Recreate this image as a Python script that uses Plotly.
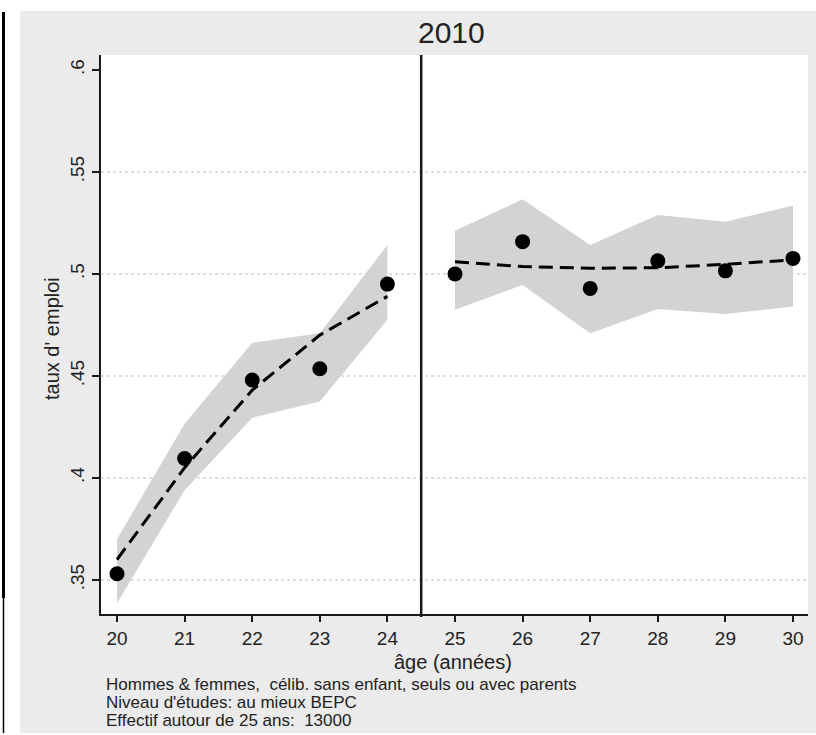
import plotly.graph_objects as go

# ---- data ----
ages_left = [20, 21, 22, 23, 24]
ages_right = [25, 26, 27, 28, 29, 30]

rate_left = [0.353, 0.4095, 0.448, 0.4535, 0.495]
rate_right = [0.500, 0.5158, 0.4929, 0.5064, 0.5015, 0.5076]

fit_left = [0.360, 0.405, 0.443, 0.470, 0.489]
fit_right = [0.506, 0.5036, 0.5028, 0.503, 0.5047, 0.5069]

upper_left = [0.370, 0.4266, 0.4663, 0.4709, 0.5142]
lower_left = [0.3386, 0.394, 0.4295, 0.4374, 0.4775]
upper_right = [0.5211, 0.5366, 0.5142, 0.5289, 0.5256, 0.5335]
lower_right = [0.4824, 0.4946, 0.4709, 0.4828, 0.4804, 0.484]

cutoff = 24.5
x_ticks = list(range(20, 31))
y_ticks = [0.35, 0.40, 0.45, 0.50, 0.55, 0.60]
y_ticktext = [".35", ".4", ".45", ".5", ".55", ".6"]
grid_vals = [0.35, 0.40, 0.45, 0.50, 0.55]

title_text = "2010"
x_title = "âge (années)"
y_title = "taux d' emploi"
notes = [
    "Hommes & femmes,  célib. sans enfant, seuls ou avec parents",
    "Niveau d'études: au mieux BEPC",
    "Effectif autour de 25 ans:  13000",
]

# ---- style ----
FONT = "Liberation Sans"
BAND = "#D3D3D3"
BG = "#EBEBEB"
INK = "#1a1a1a"

W, H = 816, 735
L, R, T, B = 101, 8, 55, 121
pw, ph = W - L - R, H - T - B


def px_x(p):
    return (p - L) / pw


def px_y(p):
    return (H - B - p) / ph


fig = go.Figure()

for xs, lo, hi in [(ages_left, lower_left, upper_left), (ages_right, lower_right, upper_right)]:
    fig.add_trace(go.Scatter(x=xs, y=lo, mode="lines", line=dict(width=0, color=BAND),
                             showlegend=False, hoverinfo="skip"))
    fig.add_trace(go.Scatter(x=xs, y=hi, mode="lines", line=dict(width=0, color=BAND),
                             fill="tonexty", fillcolor=BAND, showlegend=False, hoverinfo="skip"))

for xs, ys in [(ages_left, fit_left), (ages_right, fit_right)]:
    fig.add_trace(go.Scatter(x=xs, y=ys, mode="lines",
                             line=dict(color="black", width=3, dash="14px,7px"),
                             showlegend=False))

for xs, ys in [(ages_left, rate_left), (ages_right, rate_right)]:
    fig.add_trace(go.Scatter(x=xs, y=ys, mode="markers",
                             marker=dict(color="black", size=15),
                             showlegend=False))

shapes = []
# white margins outside the gray graph region
shapes.append(dict(type="rect", xref="paper", yref="paper", x0=px_x(0), x1=px_x(W),
                   y0=px_y(11), y1=px_y(0), fillcolor="white", line_width=0, layer="below"))
shapes.append(dict(type="rect", xref="paper", yref="paper", x0=px_x(0), x1=px_x(20),
                   y0=px_y(H), y1=px_y(0), fillcolor="white", line_width=0, layer="below"))
shapes.append(dict(type="rect", xref="paper", yref="paper", x0=px_x(0), x1=px_x(W),
                   y0=px_y(H), y1=px_y(733), fillcolor="white", line_width=0, layer="below"))
# black edge line at far left
shapes.append(dict(type="line", xref="paper", yref="paper", x0=px_x(3.5), x1=px_x(3.5),
                   y0=px_y(598), y1=px_y(12), line=dict(color="black", width=3)))
shapes.append(dict(type="line", xref="paper", yref="paper", x0=px_x(3.5), x1=px_x(3.5),
                   y0=px_y(733), y1=px_y(598), line=dict(color="black", width=1.5)))
# grid lines
for g in grid_vals:
    shapes.append(dict(type="line", xref="paper", yref="y", x0=0, x1=1, y0=g, y1=g,
                       line=dict(color="#D5D5D5", width=1.5, dash="dot"), layer="below"))
# cutoff line
shapes.append(dict(type="line", xref="x", yref="paper", x0=cutoff, x1=cutoff,
                   y0=px_y(617), y1=1, line=dict(color=INK, width=2.5)))

annotations = [
    dict(text=title_text, x=px_x(451), y=px_y(33), xref="paper", yref="paper",
         showarrow=False, font=dict(family=FONT, size=30, color="#222"),
         xanchor="center", yanchor="middle"),
    dict(text=x_title, x=px_x(453), y=px_y(662), xref="paper", yref="paper",
         showarrow=False, font=dict(family=FONT, size=20, color="#222"),
         xanchor="center", yanchor="middle"),
    dict(text=y_title, x=px_x(52), y=px_y(338), xref="paper", yref="paper",
         showarrow=False, textangle=-90, font=dict(family=FONT, size=20, color="#222"),
         xanchor="center", yanchor="middle"),
]
for txt, yp in zip(notes, [684, 702, 720]):
    annotations.append(dict(text=txt, x=px_x(104), y=px_y(yp), xref="paper", yref="paper",
                            showarrow=False, font=dict(family=FONT, size=17, color="#222"),
                            xanchor="left", yanchor="middle"))

fig.update_layout(
    width=W, height=H,
    margin=dict(l=L, r=R, t=T, b=B, pad=0),
    paper_bgcolor=BG, plot_bgcolor="white",
    shapes=shapes, annotations=annotations,
    showlegend=False,
    xaxis=dict(range=[19.763, 30.222], tickvals=x_ticks, showgrid=False, zeroline=False,
               showline=True, linecolor=INK, linewidth=2, ticks="outside", ticklen=6,
               tickwidth=2, tickcolor=INK, tickfont=dict(family=FONT, size=19, color="#222"),
               fixedrange=True),
    yaxis=dict(range=[0.3333, 0.6073], tickvals=y_ticks, ticktext=y_ticktext, showgrid=False,
               zeroline=False, showline=True, linecolor=INK, linewidth=2, ticks="outside",
               ticklen=7, tickwidth=2, tickcolor=INK, tickangle=-90,
               tickfont=dict(family=FONT, size=19, color="#222"), fixedrange=True),
)

fig.write_html("out.html", config={"displayModeBar": False},
               post_script="document.body.style.margin='0px';document.body.style.overflow='hidden';")
